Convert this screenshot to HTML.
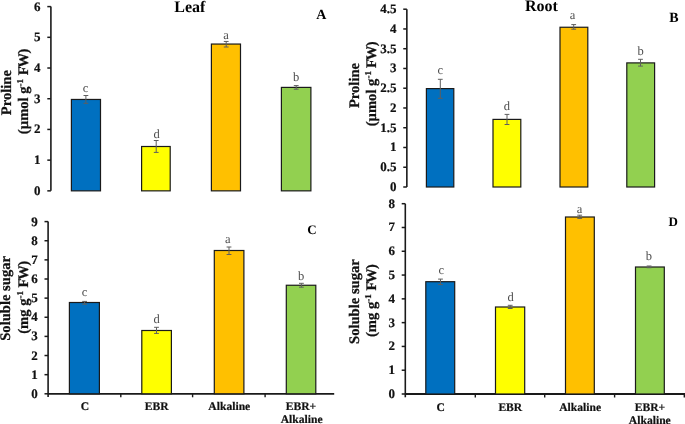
<!DOCTYPE html>
<html><head><meta charset="utf-8"><style>
html,body{margin:0;padding:0;background:#fff;overflow:hidden;width:685px;height:424px;}
svg{display:block;will-change:transform;}
text{font-family:"Liberation Serif",serif;text-rendering:geometricPrecision;}
.tk{font-size:13px;font-weight:bold;text-anchor:end;fill:#111;stroke:#111;stroke-width:0.2px;}
.lt{font-size:12.5px;text-anchor:middle;fill:#4d4d4d;}
.ttl{font-size:16px;font-weight:bold;text-anchor:middle;fill:#000;}
.pl{font-size:14px;font-weight:bold;text-anchor:middle;fill:#000;}
.yt{font-size:14.6px;font-weight:bold;text-anchor:middle;fill:#111;stroke:#111;stroke-width:0.25px;}
.sup{font-size:9px;}
.xl{font-size:11.6px;font-weight:bold;text-anchor:middle;fill:#111;stroke:#111;stroke-width:0.2px;}
</style></head><body>
<svg width="685" height="424" viewBox="0 0 685 424">
<rect width="685" height="424" fill="#fff"/>
<line x1="50.9" y1="6.6" x2="50.9" y2="190.85" stroke="#1a1a1a" stroke-width="1.6"/>
<line x1="47.3" y1="190.85" x2="50.9" y2="190.85" stroke="#1a1a1a" stroke-width="1.5"/>
<text x="40.6" y="194.85" class="tk">0</text>
<line x1="47.3" y1="160.14" x2="50.9" y2="160.14" stroke="#1a1a1a" stroke-width="1.5"/>
<text x="40.6" y="164.14" class="tk">1</text>
<line x1="47.3" y1="129.43" x2="50.9" y2="129.43" stroke="#1a1a1a" stroke-width="1.5"/>
<text x="40.6" y="133.43" class="tk">2</text>
<line x1="47.3" y1="98.72" x2="50.9" y2="98.72" stroke="#1a1a1a" stroke-width="1.5"/>
<text x="40.6" y="102.72" class="tk">3</text>
<line x1="47.3" y1="68.02" x2="50.9" y2="68.02" stroke="#1a1a1a" stroke-width="1.5"/>
<text x="40.6" y="72.02" class="tk">4</text>
<line x1="47.3" y1="37.31" x2="50.9" y2="37.31" stroke="#1a1a1a" stroke-width="1.5"/>
<text x="40.6" y="41.31" class="tk">5</text>
<line x1="47.3" y1="6.6" x2="50.9" y2="6.6" stroke="#1a1a1a" stroke-width="1.5"/>
<text x="40.6" y="10.6" class="tk">6</text>
<rect x="71.4" y="99.45" width="29.1" height="91.4" fill="#0070C0" stroke="#1a1a1a" stroke-width="1.2"/>
<rect x="141.6" y="146.5" width="28.6" height="44.35" fill="#FFFF00" stroke="#1a1a1a" stroke-width="1.2"/>
<rect x="211.4" y="44.05" width="29.1" height="146.8" fill="#FFC000" stroke="#1a1a1a" stroke-width="1.2"/>
<rect x="281.4" y="87.4" width="29.5" height="103.45" fill="#92D050" stroke="#1a1a1a" stroke-width="1.2"/>
<path d="M85.9 95.5V103.3M83.5 95.5H88.3M83.5 103.3H88.3" stroke="#5e5e5e" stroke-width="1" fill="none"/>
<text x="85.6" y="92" class="lt">c</text>
<path d="M156.2 140.5V152.4M153.8 140.5H158.6M153.8 152.4H158.6" stroke="#5e5e5e" stroke-width="1" fill="none"/>
<text x="156.5" y="137.6" class="lt">d</text>
<path d="M226.2 41.45V47M223.8 41.45H228.6M223.8 47H228.6" stroke="#5e5e5e" stroke-width="1" fill="none"/>
<text x="226.05" y="38.8" class="lt">a</text>
<path d="M296.2 85.6V89.2M293.8 85.6H298.6M293.8 89.2H298.6" stroke="#5e5e5e" stroke-width="1" fill="none"/>
<text x="296.05" y="80.5" class="lt">b</text>
<line x1="406.85" y1="9.2" x2="406.85" y2="187" stroke="#1a1a1a" stroke-width="1.6"/>
<line x1="403.25" y1="187" x2="406.85" y2="187" stroke="#1a1a1a" stroke-width="1.5"/>
<text x="396.55" y="191" class="tk">0</text>
<line x1="403.25" y1="167.24" x2="406.85" y2="167.24" stroke="#1a1a1a" stroke-width="1.5"/>
<text x="396.55" y="171.24" class="tk">0.5</text>
<line x1="403.25" y1="147.49" x2="406.85" y2="147.49" stroke="#1a1a1a" stroke-width="1.5"/>
<text x="396.55" y="151.49" class="tk">1</text>
<line x1="403.25" y1="127.73" x2="406.85" y2="127.73" stroke="#1a1a1a" stroke-width="1.5"/>
<text x="396.55" y="131.73" class="tk">1.5</text>
<line x1="403.25" y1="107.98" x2="406.85" y2="107.98" stroke="#1a1a1a" stroke-width="1.5"/>
<text x="396.55" y="111.98" class="tk">2</text>
<line x1="403.25" y1="88.22" x2="406.85" y2="88.22" stroke="#1a1a1a" stroke-width="1.5"/>
<text x="396.55" y="92.22" class="tk">2.5</text>
<line x1="403.25" y1="68.47" x2="406.85" y2="68.47" stroke="#1a1a1a" stroke-width="1.5"/>
<text x="396.55" y="72.47" class="tk">3</text>
<line x1="403.25" y1="48.71" x2="406.85" y2="48.71" stroke="#1a1a1a" stroke-width="1.5"/>
<text x="396.55" y="52.71" class="tk">3.5</text>
<line x1="403.25" y1="28.96" x2="406.85" y2="28.96" stroke="#1a1a1a" stroke-width="1.5"/>
<text x="396.55" y="32.96" class="tk">4</text>
<line x1="403.25" y1="9.2" x2="406.85" y2="9.2" stroke="#1a1a1a" stroke-width="1.5"/>
<text x="396.55" y="13.2" class="tk">4.5</text>
<rect x="426.4" y="88.6" width="27.4" height="98.4" fill="#0070C0" stroke="#1a1a1a" stroke-width="1.2"/>
<rect x="493" y="119.4" width="27.8" height="67.6" fill="#FFFF00" stroke="#1a1a1a" stroke-width="1.2"/>
<rect x="560" y="27.25" width="27.8" height="159.75" fill="#FFC000" stroke="#1a1a1a" stroke-width="1.2"/>
<rect x="626.8" y="62.9" width="27.8" height="124.1" fill="#92D050" stroke="#1a1a1a" stroke-width="1.2"/>
<path d="M440.3 79.3V98.3M437.9 79.3H442.7M437.9 98.3H442.7" stroke="#5e5e5e" stroke-width="1" fill="none"/>
<text x="440.4" y="73.7" class="lt">c</text>
<path d="M507 114.4V124.5M504.6 114.4H509.4M504.6 124.5H509.4" stroke="#5e5e5e" stroke-width="1" fill="none"/>
<text x="506.8" y="109.8" class="lt">d</text>
<path d="M573.7 24.6V29.2M571.3 24.6H576.1M571.3 29.2H576.1" stroke="#5e5e5e" stroke-width="1" fill="none"/>
<text x="572.65" y="18.5" class="lt">a</text>
<path d="M640.5 59.3V66.1M638.1 59.3H642.9M638.1 66.1H642.9" stroke="#5e5e5e" stroke-width="1" fill="none"/>
<text x="640.7" y="55.3" class="lt">b</text>
<line x1="48.1" y1="221.6" x2="48.1" y2="397.1" stroke="#1a1a1a" stroke-width="1.6"/>
<line x1="44.5" y1="393.8" x2="48.1" y2="393.8" stroke="#1a1a1a" stroke-width="1.5"/>
<text x="37.8" y="397.8" class="tk">0</text>
<line x1="44.5" y1="374.67" x2="48.1" y2="374.67" stroke="#1a1a1a" stroke-width="1.5"/>
<text x="37.8" y="378.67" class="tk">1</text>
<line x1="44.5" y1="355.53" x2="48.1" y2="355.53" stroke="#1a1a1a" stroke-width="1.5"/>
<text x="37.8" y="359.53" class="tk">2</text>
<line x1="44.5" y1="336.4" x2="48.1" y2="336.4" stroke="#1a1a1a" stroke-width="1.5"/>
<text x="37.8" y="340.4" class="tk">3</text>
<line x1="44.5" y1="317.27" x2="48.1" y2="317.27" stroke="#1a1a1a" stroke-width="1.5"/>
<text x="37.8" y="321.27" class="tk">4</text>
<line x1="44.5" y1="298.13" x2="48.1" y2="298.13" stroke="#1a1a1a" stroke-width="1.5"/>
<text x="37.8" y="302.13" class="tk">5</text>
<line x1="44.5" y1="279" x2="48.1" y2="279" stroke="#1a1a1a" stroke-width="1.5"/>
<text x="37.8" y="283" class="tk">6</text>
<line x1="44.5" y1="259.87" x2="48.1" y2="259.87" stroke="#1a1a1a" stroke-width="1.5"/>
<text x="37.8" y="263.87" class="tk">7</text>
<line x1="44.5" y1="240.73" x2="48.1" y2="240.73" stroke="#1a1a1a" stroke-width="1.5"/>
<text x="37.8" y="244.73" class="tk">8</text>
<line x1="44.5" y1="221.6" x2="48.1" y2="221.6" stroke="#1a1a1a" stroke-width="1.5"/>
<text x="37.8" y="225.6" class="tk">9</text>
<line x1="48.1" y1="393.8" x2="334.2" y2="393.8" stroke="#1a1a1a" stroke-width="1.8"/>
<line x1="120.8" y1="393.8" x2="120.8" y2="397.3" stroke="#1a1a1a" stroke-width="1.4"/>
<line x1="192.6" y1="393.8" x2="192.6" y2="397.3" stroke="#1a1a1a" stroke-width="1.4"/>
<line x1="265.1" y1="393.8" x2="265.1" y2="397.3" stroke="#1a1a1a" stroke-width="1.4"/>
<rect x="69.4" y="302.5" width="30" height="91.3" fill="#0070C0" stroke="#1a1a1a" stroke-width="1.2"/>
<rect x="141.8" y="330.5" width="29.6" height="63.3" fill="#FFFF00" stroke="#1a1a1a" stroke-width="1.2"/>
<rect x="214.3" y="250.5" width="29.6" height="143.3" fill="#FFC000" stroke="#1a1a1a" stroke-width="1.2"/>
<rect x="286.3" y="285.25" width="29.5" height="108.55" fill="#92D050" stroke="#1a1a1a" stroke-width="1.2"/>
<path d="M84.6 301.4V304.2M82.2 301.4H87M82.2 304.2H87" stroke="#5e5e5e" stroke-width="1" fill="none"/>
<text x="84.5" y="295.8" class="lt">c</text>
<path d="M156.5 327.3V333.4M154.1 327.3H158.9M154.1 333.4H158.9" stroke="#5e5e5e" stroke-width="1" fill="none"/>
<text x="156.55" y="323.3" class="lt">d</text>
<path d="M229 247V254.5M226.6 247H231.4M226.6 254.5H231.4" stroke="#5e5e5e" stroke-width="1" fill="none"/>
<text x="227.9" y="242.9" class="lt">a</text>
<path d="M301.4 283.3V287.2M299 283.3H303.8M299 287.2H303.8" stroke="#5e5e5e" stroke-width="1" fill="none"/>
<text x="301" y="280.4" class="lt">b</text>
<line x1="405.3" y1="203.7" x2="405.3" y2="397.3" stroke="#1a1a1a" stroke-width="1.6"/>
<line x1="401.7" y1="394" x2="405.3" y2="394" stroke="#1a1a1a" stroke-width="1.5"/>
<text x="395" y="398" class="tk">0</text>
<line x1="401.7" y1="370.21" x2="405.3" y2="370.21" stroke="#1a1a1a" stroke-width="1.5"/>
<text x="395" y="374.21" class="tk">1</text>
<line x1="401.7" y1="346.43" x2="405.3" y2="346.43" stroke="#1a1a1a" stroke-width="1.5"/>
<text x="395" y="350.43" class="tk">2</text>
<line x1="401.7" y1="322.64" x2="405.3" y2="322.64" stroke="#1a1a1a" stroke-width="1.5"/>
<text x="395" y="326.64" class="tk">3</text>
<line x1="401.7" y1="298.85" x2="405.3" y2="298.85" stroke="#1a1a1a" stroke-width="1.5"/>
<text x="395" y="302.85" class="tk">4</text>
<line x1="401.7" y1="275.06" x2="405.3" y2="275.06" stroke="#1a1a1a" stroke-width="1.5"/>
<text x="395" y="279.06" class="tk">5</text>
<line x1="401.7" y1="251.27" x2="405.3" y2="251.27" stroke="#1a1a1a" stroke-width="1.5"/>
<text x="395" y="255.27" class="tk">6</text>
<line x1="401.7" y1="227.49" x2="405.3" y2="227.49" stroke="#1a1a1a" stroke-width="1.5"/>
<text x="395" y="231.49" class="tk">7</text>
<line x1="401.7" y1="203.7" x2="405.3" y2="203.7" stroke="#1a1a1a" stroke-width="1.5"/>
<text x="395" y="207.7" class="tk">8</text>
<line x1="405.3" y1="394" x2="685" y2="394" stroke="#1a1a1a" stroke-width="1.8"/>
<line x1="475.3" y1="394" x2="475.3" y2="397.5" stroke="#1a1a1a" stroke-width="1.4"/>
<line x1="544.7" y1="394" x2="544.7" y2="397.5" stroke="#1a1a1a" stroke-width="1.4"/>
<line x1="614.6" y1="394" x2="614.6" y2="397.5" stroke="#1a1a1a" stroke-width="1.4"/>
<line x1="684.3" y1="394" x2="684.3" y2="397.5" stroke="#1a1a1a" stroke-width="1.4"/>
<rect x="425.8" y="281.7" width="28.9" height="112.3" fill="#0070C0" stroke="#1a1a1a" stroke-width="1.2"/>
<rect x="495.5" y="307" width="29.2" height="87" fill="#FFFF00" stroke="#1a1a1a" stroke-width="1.2"/>
<rect x="565.5" y="217" width="28.8" height="177" fill="#FFC000" stroke="#1a1a1a" stroke-width="1.2"/>
<rect x="635.5" y="267" width="28.8" height="127" fill="#92D050" stroke="#1a1a1a" stroke-width="1.2"/>
<path d="M440.5 279.1V284.6M438.1 279.1H442.9M438.1 284.6H442.9" stroke="#5e5e5e" stroke-width="1" fill="none"/>
<text x="441.25" y="273.8" class="lt">c</text>
<path d="M510.2 305.3V308.5M507.8 305.3H512.6M507.8 308.5H512.6" stroke="#5e5e5e" stroke-width="1" fill="none"/>
<text x="510.55" y="301" class="lt">d</text>
<path d="M579.7 215.2V218.4M577.3 215.2H582.1M577.3 218.4H582.1" stroke="#5e5e5e" stroke-width="1" fill="none"/>
<text x="579.45" y="213.3" class="lt">a</text>
<path d="M649.1 266V267.7M646.7 266H651.5M646.7 267.7H651.5" stroke="#5e5e5e" stroke-width="1" fill="none"/>
<text x="648.75" y="259.6" class="lt">b</text>

<text x="189.9" y="12.3" class="ttl">Leaf</text>
<text x="541.5" y="11.3" class="ttl">Root</text>
<text x="321.2" y="18.8" class="pl">A</text>
<text x="674" y="21.6" class="pl">B</text>
<text x="312" y="233.6" class="pl" style="font-size:13px">C</text>
<text x="673.3" y="225.6" class="pl" style="font-size:13px">D</text>
<!-- y titles -->
<text transform="translate(11,92.6) rotate(-90)" class="yt">Proline</text>
<text transform="translate(28.1,91.4) rotate(-90)" class="yt">(&#181;mol g<tspan class="sup" dy="-5">-1</tspan><tspan dy="5"> F</tspan><tspan dx="-1.2">W</tspan><tspan dx="-0.6">)</tspan></text>
<text transform="translate(359.1,85.5) rotate(-90)" class="yt">Proline</text>
<text transform="translate(375.5,83.9) rotate(-90)" class="yt">(&#181;mol g<tspan class="sup" dy="-5">-1</tspan><tspan dy="5" dx="-0.6"> F</tspan><tspan dx="-1.2">W</tspan><tspan dx="-0.6">)</tspan></text>
<text transform="translate(10.3,298.4) rotate(-90)" class="yt">Soluble sugar</text>
<text transform="translate(27.5,297.3) rotate(-90)" class="yt">(mg g<tspan class="sup" dy="-5">-1</tspan><tspan dy="5"> F</tspan><tspan dx="-1.2">W</tspan><tspan dx="-0.6">)</tspan></text>
<text transform="translate(358.8,301.6) rotate(-90)" class="yt">Soluble sugar</text>
<text transform="translate(376,300.5) rotate(-90)" class="yt">(mg g<tspan class="sup" dy="-5">-1</tspan><tspan dy="5"> F</tspan><tspan dx="-1.2">W</tspan><tspan dx="-0.6">)</tspan></text>
<!-- x labels -->
<text x="84.9" y="410.4" class="xl">C</text>
<text x="156.6" y="410.4" class="xl">EBR</text>
<text x="229.3" y="410.4" class="xl">Alkaline</text>
<text x="300.9" y="410.4" class="xl">EBR+</text>
<text x="301.6" y="423.3" class="xl">Alkaline</text>
<text x="440.8" y="410.8" class="xl">C</text>
<text x="510.3" y="410.8" class="xl">EBR</text>
<text x="580.1" y="410.8" class="xl">Alkaline</text>
<text x="650" y="410.8" class="xl">EBR+</text>
<text x="649.8" y="423.8" class="xl">Alkaline</text>

</svg>
</body></html>
